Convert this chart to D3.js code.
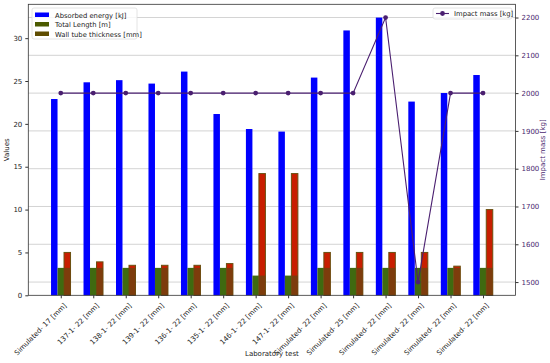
<!DOCTYPE html>
<html>
<head>
<meta charset="utf-8">
<script src="https://cdn.jsdelivr.net/npm/d3@7"></script>
<style>
  body { margin: 0; background: #fff; }
  text { font-family: "DejaVu Sans", sans-serif; }
</style>
</head>
<body>
<svg class="chart-svg" width="550" height="363"></svg>
<script>
var tests = ["Simulated- 17 [mm]", "137-1- 22 [mm]", "138-1- 22 [mm]", "139-1- 22 [mm]",
  "136-1- 22 [mm]", "135-1- 22 [mm]", "146-1- 22 [mm]", "147-1- 22 [mm]",
  "Simulated- 22 [mm]", "Simulated- 25 [mm]", "Simulated- 22 [mm]", "Simulated- 22 [mm]",
  "Simulated- 22 [mm]", "Simulated- 22 [mm]"]
var absorbedEnergy = [22.9, 24.85, 25.1, 24.7, 26.1, 21.15, 19.4, 19.1, 25.4, 30.9, 32.4, 22.6, 23.6, 25.7]
var totalLength = [3.2, 3.2, 3.2, 3.2, 3.2, 3.2, 2.3, 2.3, 3.2, 3.2, 3.2, 3.2, 3.2, 3.2]
var wallThickness = [5, 3.9, 3.5, 3.5, 3.5, 3.7, 14.2, 14.2, 5, 5, 5, 5, 3.4, 10]
var impactMass = [2000, 2000, 2000, 2000, 2000, 2000, 2000, 2000, 2000, 2000, 2200, 1500, 2000, 2000]
var leftTicks = [0, 5, 10, 15, 20, 25, 30]
var rightTicks = [1500, 1600, 1700, 1800, 1900, 2000, 2100, 2200]

var margin = {left: 28.3, right: 34.5, top: 4.3, bottom: 67.7}
var width = 550, height = 363
var svg = d3.select(".chart-svg")
var purple = "#4a1f70"
var colors = {energy: "#0000ff", length: "#3f6a10", wall: "#c81e00", wallEdge: "#6a5010", overlay: "#70420e"}

var xScale = d3.scaleLinear().domain([-1, 14]).range([margin.left, width - margin.right])
var yScale = d3.scaleLinear().domain([0, 33.95]).range([height - margin.bottom, margin.top])
var y2Scale = d3.scaleLinear().domain([1465, 2235]).range([height - margin.bottom, margin.top])
var barW = xScale(0.2) - xScale(0)

// grid from the right axis
svg.append("g").selectAll("line")
  .data(rightTicks).enter().append("line")
  .attr("x1", margin.left).attr("x2", width - margin.right)
  .attr("y1", d => y2Scale(d)).attr("y2", d => y2Scale(d))
  .attr("stroke", "#c8c8c8").attr("stroke-width", 0.8)

var bars = svg.append("g")
bars.selectAll(".energy").data(absorbedEnergy).enter().append("rect")
  .attr("x", (d, i) => xScale(i - 0.3))
  .attr("y", d => yScale(d))
  .attr("width", barW)
  .attr("height", d => yScale(0) - yScale(d))
  .attr("fill", colors.energy)
bars.selectAll(".length").data(totalLength).enter().append("rect")
  .attr("x", (d, i) => xScale(i - 0.1))
  .attr("y", d => yScale(d))
  .attr("width", barW)
  .attr("height", d => yScale(0) - yScale(d))
  .attr("fill", colors.length)
bars.selectAll(".wall").data(wallThickness).enter().append("rect")
  .attr("x", (d, i) => xScale(i + 0.1))
  .attr("y", d => yScale(d))
  .attr("width", barW)
  .attr("height", d => yScale(0) - yScale(d))
  .attr("fill", colors.wall)
  .attr("stroke", colors.wallEdge).attr("stroke-width", 1)
// the length bars bleed over the lower part of the wall bars
bars.selectAll(".overlap").data(totalLength).enter().append("rect")
  .attr("x", (d, i) => xScale(i + 0.1))
  .attr("y", (d, i) => yScale(Math.min(d, wallThickness[i])))
  .attr("width", barW)
  .attr("height", (d, i) => yScale(0) - yScale(Math.min(d, wallThickness[i])))
  .attr("fill", colors.overlay).attr("opacity", 0.85)

// impact mass line
var line = d3.line().x((d, i) => xScale(i)).y(d => y2Scale(d))
svg.append("path").datum(impactMass)
  .attr("d", line).attr("fill", "none")
  .attr("stroke", purple).attr("stroke-width", 1.1)
svg.append("g").selectAll("circle").data(impactMass).enter().append("circle")
  .attr("cx", (d, i) => xScale(i)).attr("cy", d => y2Scale(d))
  .attr("r", 2.4).attr("fill", purple)

// frame
svg.append("rect")
  .attr("x", margin.left).attr("y", margin.top)
  .attr("width", width - margin.left - margin.right)
  .attr("height", height - margin.top - margin.bottom)
  .attr("fill", "none").attr("stroke", "#333").attr("stroke-width", 0.8)

// axes
var xAxis = svg.append("g")
  .attr("transform", "translate(0," + (height - margin.bottom) + ")")
  .call(d3.axisBottom(xScale).tickValues(d3.range(tests.length)).tickFormat(i => tests[i]).tickSize(3))
xAxis.select(".domain").remove()
xAxis.selectAll("text")
  .attr("transform", "translate(0,2) rotate(-45)")
  .attr("text-anchor", "end")
  .attr("dx", "-0.3em").attr("dy", "0.6em")

var yAxis = svg.append("g")
  .attr("transform", "translate(" + margin.left + ",0)")
  .call(d3.axisLeft(yScale).tickValues(leftTicks).tickSize(3))
yAxis.select(".domain").remove()

var y2Axis = svg.append("g")
  .attr("transform", "translate(" + (width - margin.right) + ",0)")
  .call(d3.axisRight(y2Scale).tickValues(rightTicks).tickFormat(d3.format("d")).tickSize(3))
y2Axis.select(".domain").remove()

svg.selectAll(".tick text").attr("font-size", "7px").attr("font-family", "DejaVu Sans")
svg.selectAll(".tick line").attr("stroke", "#333")
yAxis.selectAll("text").attr("fill", "#222")
xAxis.selectAll("text").attr("fill", "#222")
y2Axis.selectAll("text").attr("fill", purple)

svg.append("text")
  .attr("x", (margin.left + width - margin.right) / 2).attr("y", 356)
  .attr("text-anchor", "middle").attr("font-size", "7px").attr("fill", "#222")
  .text("Laboratory test")
svg.append("text")
  .attr("transform", "translate(9," + ((margin.top + height - margin.bottom) / 2) + ") rotate(-90)")
  .attr("text-anchor", "middle").attr("font-size", "7px").attr("fill", "#222")
  .text("Values")
svg.append("text")
  .attr("transform", "translate(545," + ((margin.top + height - margin.bottom) / 2) + ") rotate(-90)")
  .attr("text-anchor", "middle").attr("font-size", "7px").attr("fill", purple)
  .text("Impact mass [kg]")

// legends
var legendItems = [
  {label: "Absorbed energy [kJ]", color: colors.energy},
  {label: "Total Length [m]", color: "#4b5a00"},
  {label: "Wall tube thickness [mm]", color: "#5e4c00"}
]
var legend = svg.append("g").attr("transform", "translate(32,8)")
legend.append("rect").attr("width", 105).attr("height", 31)
  .attr("fill", "#fff").attr("fill-opacity", 0.8)
  .attr("stroke", "#ddd").attr("stroke-width", 0.8).attr("rx", 2)
var rows = legend.selectAll(".row").data(legendItems).enter().append("g")
  .attr("transform", (d, i) => "translate(3," + (3 + i * 9.5) + ")")
rows.append("rect").attr("width", 14).attr("height", 4.5).attr("y", 1.5).attr("fill", d => d.color)
rows.append("text").attr("x", 20).attr("y", 6.5)
  .attr("font-size", "6.8px").attr("fill", "#222").text(d => d.label)

var legend2 = svg.append("g").attr("transform", "translate(433,8)")
legend2.append("rect").attr("width", 79).attr("height", 11)
  .attr("fill", "#fff").attr("fill-opacity", 0.8)
  .attr("stroke", "#ddd").attr("stroke-width", 0.8).attr("rx", 2)
legend2.append("line").attr("x1", 3).attr("x2", 16).attr("y1", 5.5).attr("y2", 5.5)
  .attr("stroke", purple).attr("stroke-width", 1.1)
legend2.append("circle").attr("cx", 9.5).attr("cy", 5.5).attr("r", 2.4).attr("fill", purple)
legend2.append("text").attr("x", 21).attr("y", 8)
  .attr("font-size", "6.8px").attr("fill", "#222").text("Impact mass [kg]")
</script>
</body>
</html>
